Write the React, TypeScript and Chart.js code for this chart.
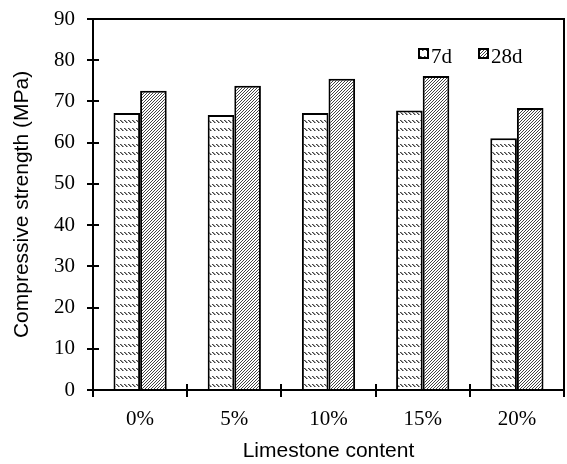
import React, { useEffect, useRef } from "react";
import { Chart, registerables } from "chart.js";

Chart.register(...registerables);

const categories = ["0%", "5%", "10%", "15%", "20%"];
const series7d = [67.2, 66.7, 67.2, 67.8, 61.1];
const series28d = [72.6, 73.8, 75.5, 76.2, 68.4];
const seriesNames = ["7d", "28d"];
const yTicks = [0, 10, 20, 30, 40, 50, 60, 70, 80, 90];

function makePattern(kind: "rows" | "diag"): CanvasPattern | string {
  const c = document.createElement("canvas");
  const ctx = c.getContext("2d");
  if (!ctx) return "#fff";
  if (kind === "rows") {
    c.width = 4;
    c.height = 8;
    ctx.fillStyle = "#ffffff";
    ctx.fillRect(0, 0, 4, 8);
    ctx.fillStyle = "#444444";
    ctx.fillRect(0, 0, 1, 1);
    ctx.fillRect(1, 1, 1, 1);
    ctx.fillRect(2, 2, 1, 1);
    ctx.fillStyle = "#999999";
    ctx.fillRect(1, 0, 1, 1);
    ctx.fillRect(2, 1, 1, 1);
    ctx.fillRect(3, 2, 1, 1);
  } else {
    c.width = 3;
    c.height = 3;
    ctx.fillStyle = "#ffffff";
    ctx.fillRect(0, 0, 3, 3);
    ctx.fillStyle = "#444444";
    ctx.fillRect(2, 0, 1, 1);
    ctx.fillRect(1, 1, 1, 1);
    ctx.fillRect(0, 2, 1, 1);
  }
  const p = ctx.createPattern(c, "repeat");
  return p || "#fff";
}

export default function App() {
  const ref = useRef<HTMLCanvasElement | null>(null);
  useEffect(() => {
    if (!ref.current) return;
    const pRows = makePattern("rows");
    const pDiag = makePattern("diag");
    const serif = "'Liberation Serif', 'Times New Roman', serif";
    const sans = "'Liberation Sans', Arial, sans-serif";

    const framePlugin = {
      id: "frame",
      afterDraw(chart: any) {
        const { ctx, chartArea } = chart;
        const { left, right, top, bottom } = chartArea;
        const y = chart.scales.y;
        ctx.save();
        ctx.strokeStyle = "#000";
        ctx.lineWidth = 2;
        ctx.strokeRect(left, top, right - left, bottom - top);
        ctx.beginPath();
        yTicks.forEach((v) => {
          const py = Math.round(y.getPixelForValue(v));
          ctx.moveTo(left - 6, py);
          ctx.lineTo(left + 6, py);
        });
        const n = categories.length;
        for (let i = 0; i <= n; i++) {
          const px = Math.round(left + ((right - left) * i) / n);
          ctx.moveTo(px, bottom - 6);
          ctx.lineTo(px, bottom + 7);
        }
        ctx.stroke();

        // legend
        const items = [
          { label: seriesNames[0], fill: pRows, x: 419 },
          { label: seriesNames[1], fill: pDiag, x: 479 },
        ];
        ctx.font = `21px ${serif}`;
        ctx.textBaseline = "alphabetic";
        items.forEach((it) => {
          ctx.fillStyle = it.fill as any;
          ctx.fillRect(it.x, 49, 9, 9);
          ctx.lineWidth = 2;
          ctx.strokeStyle = "#000";
          ctx.strokeRect(it.x, 49, 9, 9);
          ctx.fillStyle = "#000";
          ctx.fillText(it.label, it.x + 12, 63);
        });
        ctx.restore();
      },
    };

    const chart = new Chart(ref.current, {
      type: "bar",
      data: {
        labels: categories,
        datasets: [
          {
            label: seriesNames[0],
            data: series7d,
            backgroundColor: pRows as any,
            borderColor: "#000",
            borderWidth: 2,
            barPercentage: 1,
            categoryPercentage: 0.565,
          },
          {
            label: seriesNames[1],
            data: series28d,
            backgroundColor: pDiag as any,
            borderColor: "#000",
            borderWidth: 2,
            barPercentage: 1,
            categoryPercentage: 0.565,
          },
        ],
      },
      options: {
        animation: false,
        responsive: false,
        maintainAspectRatio: false,
        layout: { padding: { top: 19, right: 3, left: 0, bottom: 0 } },
        plugins: { legend: { display: false }, tooltip: { enabled: false } },
        scales: {
          x: {
            grid: { display: false },
            border: { display: false },
            ticks: {
              color: "#000",
              font: { family: serif, size: 21 },
              padding: 9,
            },
            title: {
              display: true,
              text: "Limestone content",
              color: "#000",
              font: { family: sans, size: 21 },
              padding: { top: 0, bottom: 0 },
            },
            afterFit(scale: any) {
              scale.height = 74;
              scale.paddingLeft = 0;
              scale.paddingRight = 0;
            },
          },
          y: {
            min: 0,
            max: 90,
            grid: { display: false },
            border: { display: false },
            ticks: {
              stepSize: 10,
              color: "#000",
              font: { family: serif, size: 21 },
              padding: 10,
            },
            title: {
              display: true,
              text: "Compressive strength (MPa)",
              color: "#000",
              font: { family: sans, size: 21 },
              padding: { top: 10, bottom: 0 },
            },
            afterFit(scale: any) {
              scale.width = 93;
              scale.paddingTop = 0;
              scale.paddingBottom = 0;
            },
          },
        },
      },
      plugins: [framePlugin],
    });
    return () => chart.destroy();
  }, []);
  return (
    <div style={{ position: "fixed", left: 0, top: 0, width: 567, height: 464, background: "#fff" }}>
      <canvas ref={ref} width={567} height={464} style={{ display: "block", width: 567, height: 464 }} />
    </div>
  );
}
